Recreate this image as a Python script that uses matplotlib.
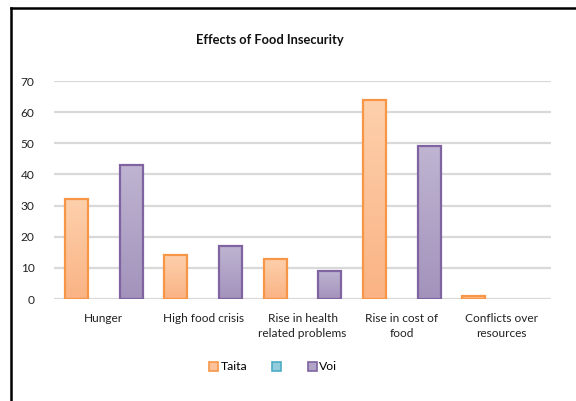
import numpy as np
import matplotlib.pyplot as plt
from matplotlib.patches import Patch
from matplotlib.lines import Line2D
from matplotlib.colors import LinearSegmentedColormap

plt.rcParams['font.family'] = ['Lato', 'DejaVu Sans']

# Survey data
categories = ["Hunger", "High food crisis", "Rise in health\nrelated problems",
              "Rise in cost of\nfood", "Conflicts over\nresources"]
taita = [32, 14, 13, 64, 1]
blank = [0, 0, 0, 0, 0]
voi = [43, 17, 9, 49, 0]

fig = plt.figure(figsize=(5.76, 4.01), dpi=100)
ax = fig.add_axes([54 / 576, 1 - 299 / 401, (551 - 54) / 576, (299 - 81) / 401])

x = np.arange(len(categories))
width = 0.232
offset = 0.276

orange_cmap = LinearSegmentedColormap.from_list("o", ["#FAB384", "#FDD0AC"])
purple_cmap = LinearSegmentedColormap.from_list("p", ["#A393BC", "#BFB4D1"])


def gradient_bars(xpos, values, edge, cmap):
    bars = ax.bar(xpos, values, width, facecolor="none", edgecolor=edge,
                  linewidth=1.6, zorder=4)
    for patch, v in zip(bars.patches, values):
        if v == 0:
            patch.set_linewidth(0)
            continue
        bx, by = patch.get_x(), patch.get_y()
        bw, bh = patch.get_width(), patch.get_height()
        grad = np.linspace(0, 1, 100).reshape(-1, 1)
        img = ax.imshow(grad, cmap=cmap, aspect="auto", origin="lower",
                        extent=[bx, bx + bw, by, by + bh], zorder=3)
        img.set_clip_path(patch)
    return bars


gradient_bars(x - offset, taita, "#F79646", orange_cmap)
gradient_bars(x + offset, voi, "#8064A2", purple_cmap)

ax.set_xlim(-0.5, len(categories) - 0.5)
ax.set_ylim(0, 70)
ax.set_yticks(range(0, 71, 10))
ax.set_xticks(x)
ax.set_xticklabels(categories, fontsize=8.6, color="#222222", linespacing=1.5)
ax.tick_params(axis="y", labelsize=8.6, colors="#222222", length=0, pad=14)
ax.tick_params(axis="x", length=0, pad=10)
ax.yaxis.grid(True, color="#D9D9D9", linewidth=1.6)
ax.set_axisbelow(True)
for s in ax.spines.values():
    s.set_visible(False)

fig.text(270 / 576, 1 - 40 / 401, "Effects of Food Insecurity", ha="center",
         va="center", fontsize=9.3, fontweight="bold", color="#111111")

handles = [
    Patch(facecolor="#FCC29A", edgecolor="#F79646", linewidth=1.2),
    Patch(facecolor="#93CDDD", edgecolor="#4BACC6", linewidth=1.2),
    Patch(facecolor="#B1A4C7", edgecolor="#8064A2", linewidth=1.2),
]
fig.legend(handles, ["Taita", "", "Voi"], loc="center",
           bbox_to_anchor=(273 / 576, 1 - 367 / 401), ncol=3, frameon=False,
           fontsize=8.8, handlelength=0.75, handleheight=0.75, handletextpad=0.2,
           columnspacing=2.0)

# chart frame (top and left edges)
fig.add_artist(Line2D([11 / 576, 1], [1 - 8 / 401, 1 - 8 / 401],
                      color="black", linewidth=1.8))
fig.add_artist(Line2D([11 / 576, 11 / 576], [0, 1 - 8 / 401],
                      color="black", linewidth=1.8))

fig.savefig("out.png", dpi=100)
